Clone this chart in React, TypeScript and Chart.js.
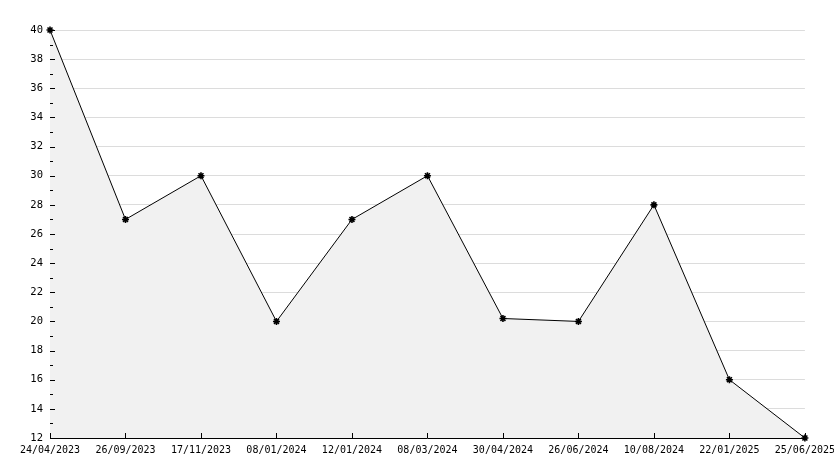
import React, { useEffect, useRef } from "react";
import { Chart, registerables } from "chart.js";

Chart.register(...registerables);

const dates = [
  "24/04/2023",
  "26/09/2023",
  "17/11/2023",
  "08/01/2024",
  "12/01/2024",
  "08/03/2024",
  "30/04/2024",
  "26/06/2024",
  "10/08/2024",
  "22/01/2025",
  "25/06/2025",
];
const values = [40, 27, 30, 20, 27, 30, 20.2, 20, 28, 16, 12];
const yMin = 12;
const yMax = 40;
const yStep = 2;

const FONT = "'DejaVu Sans Mono', monospace";

const tickPlugin = {
  id: "innerTicks",
  afterDraw(chart: any) {
    const { ctx, chartArea, scales } = chart;
    const x = scales.x;
    const y = scales.y;
    ctx.save();
    ctx.strokeStyle = "#000";
    ctx.lineWidth = 1;
    ctx.beginPath();
    for (let v = yMin; v <= yMax; v += yStep / 2) {
      const py = Math.round(y.getPixelForValue(v)) + 0.5;
      const major = (v - yMin) % yStep === 0;
      const len = major ? 5 : 3;
      ctx.moveTo(chartArea.left, py);
      ctx.lineTo(chartArea.left + len, py);
    }
    for (let i = 0; i < dates.length; i++) {
      const px = Math.round(x.getPixelForValue(i)) + 0.5;
      ctx.moveTo(px, chartArea.bottom);
      ctx.lineTo(px, chartArea.bottom - 5);
    }
    ctx.stroke();
    ctx.restore();
  },
};

export default function App() {
  const ref = useRef<HTMLCanvasElement | null>(null);

  useEffect(() => {
    document.body.style.margin = "0";
    const canvas = ref.current;
    if (!canvas) return;
    const chart = new Chart(canvas, {
      type: "line",
      data: {
        labels: dates,
        datasets: [
          {
            data: values,
            borderColor: "#000",
            borderWidth: 1,
            backgroundColor: "#f1f1f1",
            fill: "start",
            tension: 0,
            pointStyle: "star",
            pointRadius: 3.5,
            pointBorderWidth: 1.6,
            pointBorderColor: "#000",
            pointBackgroundColor: "#000",
            clip: false as any,
          },
        ],
      },
      options: {
        responsive: false,
        animation: false,
        devicePixelRatio: 1,
        layout: { padding: { top: 30, right: 0, bottom: 0, left: 0 } },
        plugins: {
          legend: { display: false },
          tooltip: { enabled: false },
        },
        scales: {
          x: {
            type: "category",
            offset: false,
            grid: { display: false, drawTicks: false },
            border: { display: true, color: "#000", width: 1 },
            ticks: {
              color: "#000",
              font: { family: FONT, size: 10 },
              padding: 6,
              maxRotation: 0,
              autoSkip: false,
            },
            afterFit(scale: any) {
              scale.height = 30;
            },
          },
          y: {
            type: "linear",
            min: yMin,
            max: yMax,
            grid: { color: "#dcdcdc", drawTicks: false, lineWidth: 1 },
            border: { display: true, color: "#000", width: 1 },
            ticks: {
              stepSize: yStep,
              color: "#000",
              font: { family: FONT, size: 10.5 },
              padding: 7,
            },
            afterFit(scale: any) {
              scale.width = 50;
            },
          },
        },
      },
      plugins: [tickPlugin],
    });
    return () => chart.destroy();
  }, []);

  return (
    <div style={{ width: 834, height: 468, background: "#fff", overflow: "hidden" }}>
      <canvas ref={ref} width={841} height={468} style={{ display: "block" }} />
    </div>
  );
}
